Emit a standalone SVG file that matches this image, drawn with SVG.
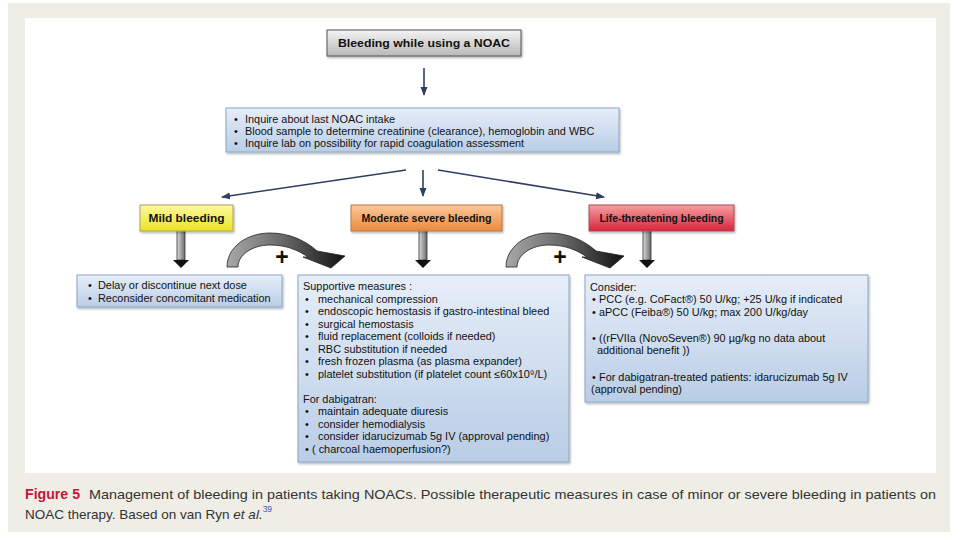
<svg xmlns="http://www.w3.org/2000/svg" width="960" height="540" viewBox="0 0 960 540">
<defs>
<style>
.t{font-family:"Liberation Sans",Arial,sans-serif;font-size:10.9px;fill:#111}
.b{font-family:"Liberation Sans",Arial,sans-serif;font-weight:bold;fill:#111}
.cap{font-family:"Liberation Sans",Arial,sans-serif;font-size:13.5px;fill:#333}
.fig{font-weight:bold;fill:#c4163a;font-size:14.5px}
.sup{fill:#3a56c8;font-size:8.5px}
.box{stroke:#8ea6c6;stroke-width:1;fill:url(#gBlue);filter:url(#sh)}
.conn{stroke:#2e3f62;stroke-width:1.6;fill:none;marker-end:url(#ah)}
</style>
<linearGradient id="gBlue" x1="0" y1="0" x2="0" y2="1"><stop offset="0" stop-color="#e6eef8"/><stop offset="1" stop-color="#b9cde6"/></linearGradient>
<linearGradient id="gGray" x1="0" y1="0" x2="0" y2="1"><stop offset="0" stop-color="#f4f4f4"/><stop offset="1" stop-color="#b8b8b8"/></linearGradient>
<linearGradient id="gYel" x1="0" y1="0" x2="0" y2="1"><stop offset="0" stop-color="#fbf8a0"/><stop offset="1" stop-color="#ebe420"/></linearGradient>
<linearGradient id="gOr" x1="0" y1="0" x2="0" y2="1"><stop offset="0" stop-color="#fcc89a"/><stop offset="1" stop-color="#ec8a3c"/></linearGradient>
<linearGradient id="gRed" x1="0" y1="0" x2="0" y2="1"><stop offset="0" stop-color="#f6a0a0"/><stop offset="1" stop-color="#d8243e"/></linearGradient>
<linearGradient id="gShaft" x1="0" y1="0" x2="1" y2="0"><stop offset="0" stop-color="#dcdcdc"/><stop offset="1" stop-color="#6a6a6a"/></linearGradient>
<linearGradient id="gCurve" x1="0" y1="0" x2="1" y2="0"><stop offset="0" stop-color="#a8a8a8"/><stop offset="0.45" stop-color="#6c6c6c"/><stop offset="1" stop-color="#111"/></linearGradient>
<filter id="sh" x="-5%" y="-10%" width="110%" height="130%"><feDropShadow dx="1" dy="1.5" stdDeviation="1.2" flood-color="#000" flood-opacity="0.3"/></filter>
<marker id="ah" markerWidth="10" markerHeight="10" refX="8" refY="5" orient="auto" markerUnits="userSpaceOnUse"><path d="M0,1.5 L9,5 L0,8.5 Z" fill="#2e3f62"/></marker>
<g id="blk"><rect x="-4" y="0" width="8" height="30" fill="url(#gShaft)" stroke="#333" stroke-width="0.8"/><path d="M-8,30 L8,30 L0,38 Z" fill="#111"/></g>
<g id="curve"><path d="M227,267 C227,247 247,233 270,233 C290,233 306,241 317,251 L345,256 L331,268 L303,257 L308,257 C298,250 286,245 270,245 C252,245 238,255 238,267 Z" fill="url(#gCurve)" stroke="#222" stroke-width="0.8"/></g>
</defs>
<rect x="0" y="0" width="960" height="540" fill="#ffffff"/>
<rect x="8" y="3" width="942" height="529" fill="#efeee6"/>
<rect x="25" y="18" width="911" height="455" fill="#ffffff"/>

<g id="connectors">
<line class="conn" x1="424" y1="68" x2="424" y2="95"/>
<line class="conn" x1="406" y1="170" x2="222" y2="197"/>
<line class="conn" x1="423" y1="170" x2="423" y2="196"/>
<line class="conn" x1="438" y1="170" x2="604" y2="197"/>
<use href="#blk" x="181" y="230"/>
<use href="#blk" x="423" y="230"/>
<use href="#blk" x="647" y="230"/>
<use href="#curve"/>
<use href="#curve" x="279"/>
<text class="b" x="282" y="265" font-size="23" text-anchor="middle">+</text>
<text class="b" x="560" y="265" font-size="23" text-anchor="middle">+</text>
</g>

<g id="start">
<rect x="327" y="30" width="194" height="26" fill="url(#gGray)" stroke="#555" stroke-width="1" filter="url(#sh)"/>
<text class="b" x="424" y="47" font-size="11" text-anchor="middle" textLength="172" lengthAdjust="spacingAndGlyphs">Bleeding while using a NOAC</text>
</g>

<g id="inquire">
<rect class="box" x="226" y="108" width="393" height="44"/>
<text class="t" font-size="10.6"><tspan x="234" y="123">•</tspan><tspan x="245" y="123">Inquire about last NOAC intake</tspan><tspan x="234" y="135">•</tspan><tspan x="245" y="135">Blood sample to determine creatinine (clearance), hemoglobin and WBC</tspan><tspan x="234" y="147">•</tspan><tspan x="245" y="147">Inquire lab on possibility for rapid coagulation assessment</tspan></text>
</g>

<g id="mild">
<rect x="140" y="205" width="93" height="26" fill="url(#gYel)" stroke="#a8a26a" stroke-width="1" filter="url(#sh)"/>
<text class="b" x="186.5" y="222" font-size="10.5" text-anchor="middle" textLength="76" lengthAdjust="spacingAndGlyphs">Mild bleeding</text>
</g>
<g id="moderate">
<rect x="351" y="205" width="151" height="26" fill="url(#gOr)" stroke="#b07a50" stroke-width="1" filter="url(#sh)"/>
<text class="b" x="426.5" y="222" font-size="10.5" text-anchor="middle" textLength="130" lengthAdjust="spacingAndGlyphs">Moderate severe bleeding</text>
</g>
<g id="life">
<rect x="589" y="205" width="145" height="26" fill="url(#gRed)" stroke="#a05060" stroke-width="1" filter="url(#sh)"/>
<text class="b" x="661.5" y="222" font-size="10.5" text-anchor="middle" textLength="124" lengthAdjust="spacingAndGlyphs">Life-threatening bleeding</text>
</g>

<g id="mild-actions">
<rect class="box" x="77" y="275" width="205" height="32"/>
<text class="t"><tspan x="88" y="289">•</tspan><tspan x="98" y="289">Delay or discontinue next dose</tspan><tspan x="88" y="302">•</tspan><tspan x="98" y="302">Reconsider concomitant medication</tspan></text>
</g>

<g id="moderate-actions">
<rect class="box" x="298" y="275" width="271" height="187"/>
<text class="t">
<tspan x="303" y="290">Supportive measures :</tspan>
<tspan x="305" y="302.5">•</tspan><tspan x="318" y="302.5">mechanical compression</tspan>
<tspan x="305" y="315">•</tspan><tspan x="318" y="315">endoscopic hemostasis if gastro-intestinal bleed</tspan>
<tspan x="305" y="327.5">•</tspan><tspan x="318" y="327.5">surgical hemostasis</tspan>
<tspan x="305" y="340">•</tspan><tspan x="318" y="340">fluid replacement (colloids if needed)</tspan>
<tspan x="305" y="352.5">•</tspan><tspan x="318" y="352.5">RBC substitution if needed</tspan>
<tspan x="305" y="365">•</tspan><tspan x="318" y="365">fresh frozen plasma (as plasma expander)</tspan>
<tspan x="305" y="377.5">•</tspan><tspan x="318" y="377.5">platelet substitution (if platelet count ≤60x10⁹/L)</tspan>
<tspan x="303" y="402.5">For dabigatran:</tspan>
<tspan x="305" y="415">•</tspan><tspan x="318" y="415">maintain adequate diuresis</tspan>
<tspan x="305" y="427.5">•</tspan><tspan x="318" y="427.5">consider hemodialysis</tspan>
<tspan x="305" y="440">•</tspan><tspan x="318" y="440">consider idarucizumab 5g IV (approval pending)</tspan>
<tspan x="305" y="452.5">•</tspan><tspan x="312" y="452.5">( charcoal haemoperfusion?)</tspan>
</text>
</g>

<g id="life-actions">
<rect class="box" x="585" y="275" width="283" height="127"/>
<text class="t">
<tspan x="590" y="291">Consider:</tspan>
<tspan x="592" y="303">•</tspan><tspan x="599" y="303">PCC (e.g. CoFact®) 50 U/kg; +25 U/kg if indicated</tspan>
<tspan x="592" y="316">•</tspan><tspan x="599" y="316">aPCC (Feiba®) 50 U/kg; max 200 U/kg/day</tspan>
<tspan x="592" y="342">•</tspan><tspan x="599" y="342">((rFVIIa (NovoSeven®) 90 µg/kg  no data about</tspan>
<tspan x="597" y="354">additional benefit ))</tspan>
<tspan x="592" y="381">•</tspan><tspan x="599" y="381">For dabigatran-treated patients: idarucizumab 5g IV</tspan>
<tspan x="591" y="393">(approval pending)</tspan>
</text>
</g>

<g id="caption">
<text class="cap fig" x="25" y="499" textLength="55" lengthAdjust="spacingAndGlyphs">Figure 5</text>
<text class="cap" x="89" y="499" textLength="847" lengthAdjust="spacingAndGlyphs">Management of bleeding in patients taking NOACs. Possible therapeutic measures in case of minor or severe bleeding in patients on</text>
<text class="cap" x="25" y="519">NOAC therapy. Based on van Ryn <tspan font-style="italic">et al.</tspan><tspan class="sup" dy="-7">39</tspan></text>
</g>
</svg>
